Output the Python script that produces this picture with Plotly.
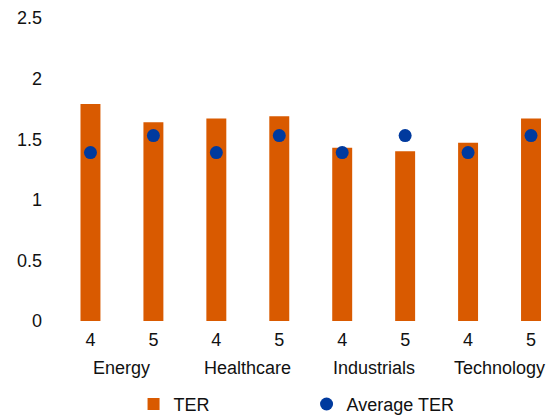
import plotly.graph_objects as go

sectors = ["Energy", "Energy", "Healthcare", "Healthcare",
           "Industrials", "Industrials", "Technology", "Technology"]
ratings = ["4", "5", "4", "5", "4", "5", "4", "5"]
ter = [1.79, 1.64, 1.67, 1.69, 1.43, 1.40, 1.47, 1.67]
avg_ter = [1.39, 1.53, 1.39, 1.53, 1.39, 1.53, 1.39, 1.53]
y_ticks = [0, 0.5, 1, 1.5, 2, 2.5]
y_ticktext = ["0", "0.5", "1", "1.5", "2", "2.5"]

ORANGE = "#D95A00"
BLUE = "#003A9E"
FONT = "Liberation Sans, Arial, sans-serif"

pos = list(range(len(ratings)))

fig = go.Figure()
fig.add_trace(go.Bar(x=pos, y=ter, name="TER", marker=dict(color=ORANGE, line=dict(width=0)),
                     width=0.317))
fig.add_trace(go.Scatter(x=pos, y=avg_ter, name="Average TER", mode="markers",
                         marker=dict(color=BLUE, size=13)))

# sector group labels centred under each pair of bars
groups = []
for s in sectors:
    if s not in groups:
        groups.append(s)
annotations = []
for g in groups:
    idx = [i for i, s in enumerate(sectors) if s == g]
    annotations.append(dict(text=g, x=sum(idx) / len(idx), xref="x", y=0, yref="paper",
                            yshift=-47, xanchor="center", yanchor="middle",
                            showarrow=False, font=dict(size=18, color="#111111")))

# page has an 8px body margin; figure sized to fill the visible window
W, H = 548, 407
L, R, T, B = 50.5, 0, 10, 94

fig.update_layout(
    width=W, height=H,
    margin=dict(l=L, r=R, t=T, b=B, pad=0, autoexpand=False),
    paper_bgcolor="white", plot_bgcolor="white",
    font=dict(family=FONT, size=18, color="#111111"),
    showlegend=True,
    legend=dict(orientation="h", x=0.15, xanchor="left", y=-0.275, yanchor="middle",
                entrywidth=128, font=dict(size=18), itemwidth=30,
                bgcolor="rgba(0,0,0,0)"),
    xaxis=dict(range=[-0.5, 7.397], tickvals=pos, ticktext=ratings, automargin=False,
               showgrid=False, showline=False, zeroline=False, ticks="",
               ticklabelstandoff=6, tickfont=dict(size=18)),
    yaxis=dict(range=[0, 2.5], tickvals=y_ticks, ticktext=y_ticktext, automargin=False,
               showgrid=False, showline=False, zeroline=False, ticks="",
               ticklabelstandoff=16, tickfont=dict(size=18)),
    annotations=annotations,
)

fig.write_html("out.html")
